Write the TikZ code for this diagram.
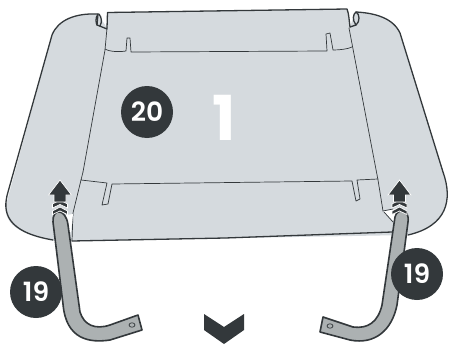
\documentclass[tikz,border=0pt]{standalone}
\usepackage{fontspec}
\setmainfont{Poppins}[BoldFont={Poppins SemiBold}]
\newfontfamily\onefont{Poppins Bold}
\definecolor{panel}{HTML}{D5DADE}
\definecolor{ink}{HTML}{33383B}
\definecolor{legc}{HTML}{ACB1B2}
\tikzset{
  edge/.style={draw=ink,line width=1.3pt,line join=round,line cap=round},
  fold/.style={draw=ink,line width=0.7pt,line join=round,line cap=round},
  badge/.style={circle,fill=ink,text=white,minimum size=52pt,inner sep=0pt,font=\fontsize{26.5}{26.5}\selectfont\bfseries},
  legs/.style={draw=ink,fill=legc,line width=1.6pt,line join=round},
  arrowc/.style={fill=ink,draw=white,line width=0.7pt,line join=miter},
}
\begin{document}
\begin{tikzpicture}[x=1pt,y=-1pt]
\useasboundingbox (0,0) rectangle (449,345);
% panels
\path[fill=panel] (107,12.5) -- (347,9) .. controls (349,14) and (349,20) .. (350,27) -- (355,12)
  .. controls (375,13) and (393,18) .. (400,33) -- (443,172)
  .. controls (452,200) and (447,226) .. (408,235) -- (72,241) -- (53,240)
  .. controls (25,236) and (3,226) .. (6,205) -- (52,35) .. controls (58,20) and (75,13) .. (98,14)
  -- (107,28) -- cycle;
% outer edges
\draw[edge] (97,25) -- (98,14) .. controls (75,13) and (58,20) .. (52,35) -- (8,192)
  .. controls (2,212) and (6,232) .. (53,240);
\draw[edge] (72,241) -- (225,238) -- (392,232);
\draw[edge] (107,28) -- (107.5,12.5) -- (347,9) .. controls (349,14) and (349,20) .. (350,27);
\draw[edge] (356,12) .. controls (375,13) and (393,18) .. (400,33) -- (443,172)
  .. controls (453,200) and (447,226) .. (408,235);
% notches
\draw[edge] (98,14) .. controls (95,18) and (96,23) .. (97,25) -- (107,29);
\draw[edge] (99,14) .. controls (102,18) and (102,22) .. (100,26);
\draw[edge] (350,27) -- (356,25) .. controls (352,20) and (353,14) .. (356,12);
\draw[edge] (356,25) .. controls (360,22) and (360,14) .. (356,12);
% fold lines
\draw[fold] (107,28) -- (105,50) -- (83,172) ;
\draw[fold] (105,49) .. controls (110,52) and (120,52) .. (126,51) -- (127,38) -- (130,38) -- (131,52) -- (327,51)
  -- (326,34) -- (330,33) -- (333,50) .. controls (340,50) and (348,49) .. (352,47);
\draw[fold] (349,28) -- (378,180) -- (383,211);
\draw[fold] (83,172) -- (81,180) -- (107,183) -- (102,205) -- (108,204) -- (112,184) -- (352,181) -- (356,201) -- (360,199) -- (357,180) -- (378,179);
\draw[fold] (81,180) -- (73,213) -- (72,241);
% white gaps beside the legs
\fill[white] (66,215) -- (73,214) -- (71,232) -- (67,232) -- cycle;
\fill[white] (383,211) -- (395,209) -- (396,224) -- cycle;
\draw[fold] (383,211) -- (393,209);
\draw[fold] (384,212) -- (393,222);
% legs
\draw[legs] (53,222) .. controls (52,208) and (66,208) .. (68,225) -- (80,312)
  .. controls (84,325) and (95,330) .. (110,325) -- (138,315) -- (142,330) -- (110,340)
  .. controls (90,343) and (66,340) .. (63,304) -- cycle;
\draw[fold] (132,325) ellipse [x radius=3,y radius=2.2];
\draw[legs] (395,217) .. controls (397,208) and (410,208) .. (408,222) -- (397,305)
  .. controls (392,330) and (375,345) .. (350,340) -- (320,332) -- (323,317) -- (353,327)
  .. controls (368,329) and (378,322) .. (382,305) -- cycle;
\draw[fold] (330,326) ellipse [x radius=3,y radius=2.2];
% arrows
\foreach \cx in {60,399.5}{
  \begin{scope}[shift={(\cx,0)}]
  \path[arrowc] (-7.5,211) -- (0,207) -- (7.5,211) -- (7.5,214.5) -- (0,211) -- (-7.5,214.5) -- cycle;
  \path[arrowc] (-7.5,204) -- (0,200) -- (7.5,204) -- (7.5,208) -- (0,204.5) -- (-7.5,208) -- cycle;
  \path[arrowc] (0,180) -- (11.5,195) -- (6,195) -- (6,202) -- (-6,202) -- (-6,195) -- (-11.5,195) -- cycle;
  \end{scope}
}
% chevron
\fill[ink] (204,314) -- (224,327) -- (244,314) -- (244,330) -- (224,344) -- (204,330) -- cycle;
% badges
\node[badge] (b20) at (147,112) {20};
\node[badge] (bl) at (36,292) {19};
\node[badge] (br) at (417,274) {19};
\node[text=white,font=\onefont\fontsize{62}{62}\selectfont] (one) at (224,118) {1};
\end{tikzpicture}
\end{document}
